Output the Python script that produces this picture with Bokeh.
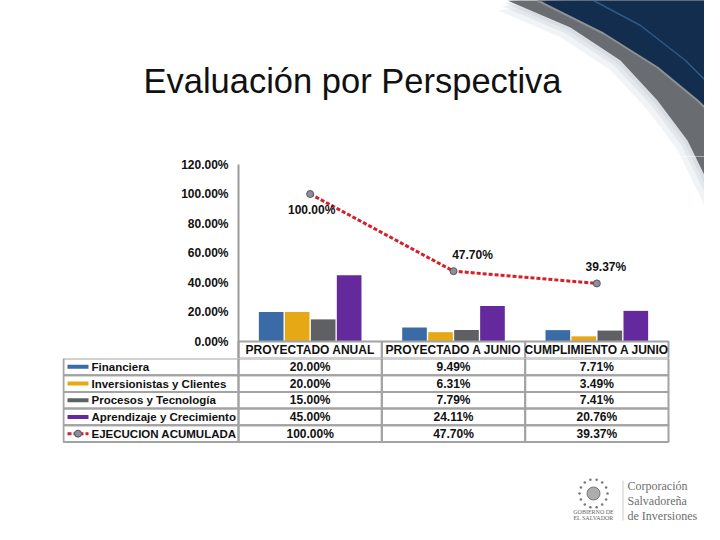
from bokeh.plotting import figure
from bokeh.models import Range1d, FixedTicker, CustomJSTickFormatter
from bokeh.layouts import column
from bokeh.embed import file_html
from bokeh.resources import INLINE
from bokeh.core.properties import value
import math

# ---------------- data ----------------
title_text = "Evaluación por Perspectiva"
categories = ["PROYECTADO ANUAL", "PROYECTADO A JUNIO", "CUMPLIMIENTO A JUNIO"]
series_names = ["Financiera", "Inversionistas y Clientes", "Procesos y Tecnología",
                "Aprendizaje y Crecimiento"]
financiera = [20.00, 9.49, 7.71]
inversionistas = [20.00, 6.31, 3.49]
procesos = [15.00, 7.79, 7.41]
aprendizaje = [45.00, 24.11, 20.76]
line_name = "EJECUCION ACUMULADA"
ejecucion = [100.00, 47.70, 39.37]
y_ticks = [0, 20, 40, 60, 80, 100, 120]
logo_lines = ["Corporación", "Salvadoreña", "de Inversiones"]
gov_lines = ["GOBIERNO DE", "EL SALVADOR"]

series_values = [financiera, inversionistas, procesos, aprendizaje]
series_colors = ["#3b6ba6", "#e6a814", "#5e6063", "#64299c"]
line_color = "#d3212b"

FONT = value("Liberation Sans")
SERIF = value("Liberation Serif")
GRID = "#a3a3a3"

# layout helpers: picture pixels -> data units
PX0, PXU = 238.0, 143.33          # x pixel of category 0 start, pixels per category
Y0, YU = 341.0, 1.475             # y pixel of 0 %, pixels per %
LEFT = 62                         # x pixel of every frame's left edge
W = 704                           # layout width
H_HDR, H_CH = 156, 202            # header / chart heights
TOP_TB = H_HDR + H_CH             # y pixel where the table figure starts
H_TB = 524 - TOP_TB


def cx(px):
    return (px - PX0) / PXU


def cy(py):
    return (Y0 - py) / YU


# decorative swoosh (picture pixels)
outer = [(507, 0), (570, 27), (620, 60), (657, 100), (687, 140), (710, 187), (722, 215)]
inner = [(537, 0), (603, 33), (657, 67), (697, 100), (722, 124)]
shine = [(593, 0), (640, 25), (685, 60), (722, 97)]


def swoosh(p, fx, fy):
    for off, alpha in [(14, 0.25), (8, 0.35), (4, 0.45)]:
        xs = [fx(x - off * 0.7) for x, y in outer] + [fx(740), fx(740)]
        ys = [fy(y + off * 0.7) for x, y in outer] + [fy(240), fy(-10)]
        p.patch(xs, ys, fill_color="#c9d2da", fill_alpha=alpha, line_color=None)
    xs = [fx(x) for x, y in outer] + [fx(740), fx(740)]
    ys = [fy(y) for x, y in outer] + [fy(215), fy(-10)]
    p.patch(xs, ys, fill_color="#696c70", line_color=None)
    xs = [fx(x) for x, y in inner] + [fx(740), fx(740)]
    ys = [fy(y) for x, y in inner] + [fy(124), fy(-10)]
    p.patch(xs, ys, fill_color="#132d4e", line_color="#8d9094", line_width=2)
    p.line([fx(x) for x, y in shine], [fy(y) for x, y in shine],
           line_color="#3d6c9c", line_width=1.5, line_alpha=0.7)


def style(f):
    f.xgrid.visible = False
    f.ygrid.visible = False
    f.outline_line_color = None
    f.background_fill_color = "white"
    f.border_fill_color = "white"
    return f


COMMON = dict(width=W, output_backend="svg", toolbar_location=None,
              min_border_left=LEFT, min_border_right=0, min_border_top=0,
              min_border_bottom=0, x_axis_location=None)

# ---------------- header (title + swoosh) ----------------
hdr = style(figure(height=H_HDR, x_range=Range1d(LEFT, W), y_range=Range1d(H_HDR, 0),
                   y_axis_location=None, **COMMON))
swoosh(hdr, lambda x: x, lambda y: y)
hdr.text(x=[352], y=[80], text=[title_text], text_font=FONT, text_font_size="34.5px",
         text_color="#111111", text_align="center", text_baseline="alphabetic")

# ---------------- chart ----------------
ch = style(figure(height=H_CH, x_range=Range1d(cx(LEFT), cx(W)),
                  y_range=Range1d(cy(TOP_TB), cy(H_HDR)), **COMMON))
swoosh(ch, cx, cy)

ax = ch.yaxis[0]
ax.fixed_location = 0
ax.ticker = FixedTicker(ticks=y_ticks)
ax.formatter = CustomJSTickFormatter(code="return tick.toFixed(2) + '%';")
ax.bounds = (cy(TOP_TB), 120)
ax.axis_line_color = "#9c9c9c"
ax.axis_line_width = 2
ax.major_tick_out = 0
ax.major_tick_in = 0
ax.minor_tick_out = 0
ax.minor_tick_in = 0
ax.major_label_standoff = 10
ax.major_label_text_font = "Liberation Sans"
ax.major_label_text_font_style = "bold"
ax.major_label_text_font_size = "12px"
ax.major_label_text_color = "#111111"

centers = [i + 0.5 for i in range(len(categories))]
offsets = [-0.272, -0.0907, 0.0907, 0.272]
for vals, col, off in zip(series_values, series_colors, offsets):
    ch.vbar(x=[c + off for c in centers], top=vals, bottom=0, width=0.172,
            fill_color=col, line_color=None)

ch.line(centers, ejecucion, line_color=line_color, line_width=3, line_dash="4 2")
ch.scatter(centers, ejecucion, size=7, fill_color="#8e8e9a", line_color="#555560")

dxs = [1.5 / PXU, 19.0 / PXU, 9.0 / PXU]
dys = [-15.5 / YU, 16.5 / YU, 16.0 / YU]
ch.text(x=[c + d for c, d in zip(centers, dxs)], y=[v + d for v, d in zip(ejecucion, dys)],
        text=[f"{v:.2f}%" for v in ejecucion], text_font=FONT, text_font_style="bold",
        text_font_size="12px", text_color="#111111", text_align="center",
        text_baseline="middle")

# header row of the data table
hh = (TOP_TB - Y0) / YU
ch.rect(x=centers, y=[-hh / 2] * 3, width=1, height=hh, fill_alpha=0,
        line_color=GRID, line_width=2)
ch.text(x=centers, y=[-hh / 2] * 3, text=categories, text_font=FONT,
        text_font_style="bold", text_font_size="12px", text_color="#111111",
        text_align="center", text_baseline="middle")

# ---------------- table ----------------
RH = 16.7


def ry(py):
    return (py - TOP_TB) / RH


tb = style(figure(height=H_TB, x_range=Range1d(cx(LEFT), cx(W)),
                  y_range=Range1d(ry(524), 0), y_axis_location=None, **COMMON))

row_names = series_names + [line_name]
row_values = series_values + [ejecucion]
nrows = len(row_names)
lx0, lx1 = cx(63), 0.0
tb.rect(x=[(lx0 + lx1) / 2] * nrows, y=[r + 0.5 for r in range(nrows)],
        width=lx1 - lx0, height=1, fill_alpha=0, line_color=GRID, line_width=2)
for i, c in enumerate(centers):
    tb.rect(x=[c] * nrows, y=[r + 0.5 for r in range(nrows)], width=1, height=1,
            fill_alpha=0, line_color=GRID, line_width=2)
    tb.text(x=[c] * nrows, y=[r + 0.5 for r in range(nrows)],
            text=[f"{vals[i]:.2f}%" for vals in row_values], text_font=FONT,
            text_font_style="bold", text_font_size="12px", text_color="#111111",
            text_align="center", text_baseline="middle")

for r, col in enumerate(series_colors):
    tb.segment(x0=[cx(67)], y0=[r + 0.5], x1=[cx(88)], y1=[r + 0.5],
               line_color=col, line_width=4)
r_line = len(series_colors) + 0.5
tb.segment(x0=[cx(67)], y0=[r_line], x1=[cx(88)], y1=[r_line],
           line_color=line_color, line_width=3, line_dash="4 2")
tb.scatter([cx(77.5)], [r_line], size=7, fill_color="#8e8e9a", line_color="#555560")
tb.text(x=[cx(91)] * nrows, y=[r + 0.5 for r in range(nrows)], text=row_names,
        text_font=FONT, text_font_style="bold", text_font_size="11.5px",
        text_color="#111111", text_align="left", text_baseline="middle")

# logo
ex, ey = 593, 493
tb.scatter([cx(ex)], [ry(ey)], size=13, fill_color="#8a8a8a", fill_alpha=0.7,
           line_color="#777777")
ring_x = [cx(ex + 14 * math.cos(2 * math.pi * k / 14)) for k in range(14)]
ring_y = [ry(ey + 14 * math.sin(2 * math.pi * k / 14)) for k in range(14)]
tb.scatter(ring_x, ring_y, size=2.5, fill_color="#777777", line_color=None)
tb.text(x=[cx(ex)] * 2, y=[ry(511), ry(517)], text=gov_lines, text_font=SERIF,
        text_font_size="6px", text_color="#666666", text_align="center",
        text_baseline="middle")
tb.segment(x0=[cx(622.5)], y0=[ry(480)], x1=[cx(622.5)], y1=[ry(520)],
           line_color="#cccccc", line_width=1)
tb.text(x=[cx(627)] * 3, y=[ry(485), ry(500), ry(515)], text=logo_lines, text_font=SERIF,
        text_font_size="12px", text_color="#6e6e6e", text_align="left",
        text_baseline="middle")

layout = column(hdr, ch, tb, spacing=0)
open("out.html", "w").write(file_html(layout, INLINE))
